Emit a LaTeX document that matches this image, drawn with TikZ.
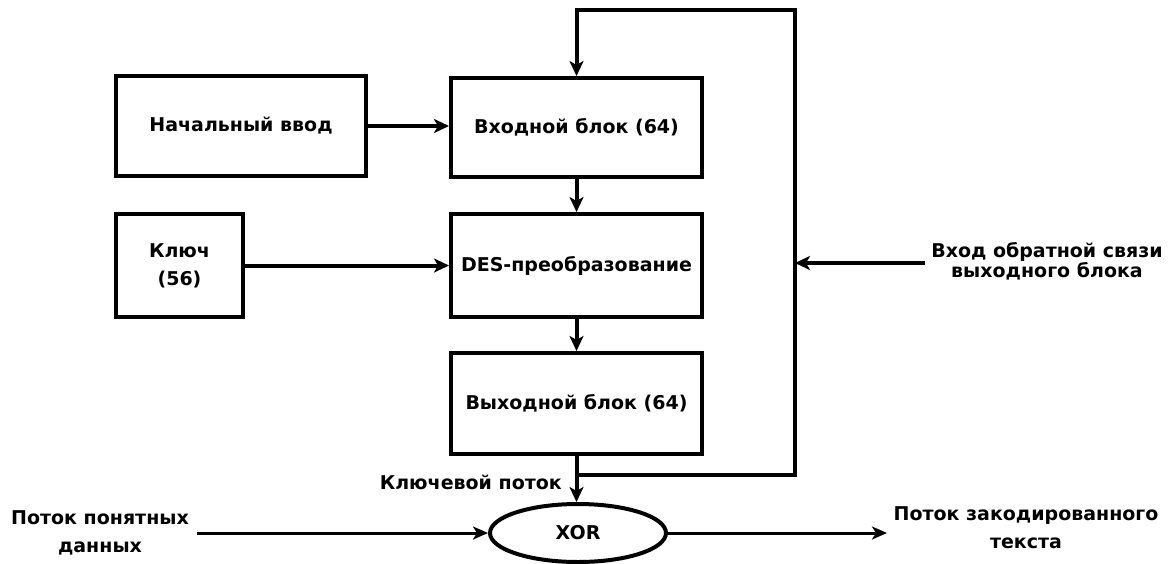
\documentclass[tikz,border=0pt]{standalone}
\usepackage{fontspec}
\setmainfont{DejaVu Sans}
\usetikzlibrary{arrows.meta,shapes.geometric,calc}
\begin{document}
\begin{tikzpicture}[x=1pt,y=-1pt,
  box/.style={draw,line width=4pt,inner sep=0pt,align=center,
    font=\bfseries\fontsize{19}{28}\selectfont},
  lbl/.style={inner sep=0pt,align=center,font=\bfseries\fontsize{19}{28}\selectfont},
  arr/.style={line width=4pt,-{Stealth[length=15pt,width=14pt,inset=4pt]}},
  thinarr/.style={line width=3pt,-{Stealth[length=15pt,width=13pt,inset=4pt]}},
  ln/.style={line width=4pt}]
\useasboundingbox (0,0) rectangle (1173,563);
\fill[white] (0,0) rectangle (1173,563);

\node[box,minimum width=250pt,minimum height=100pt] (b1) at (241,126) {Начальный ввод};
\node[box,minimum width=251pt,minimum height=99pt] (b2) at (576.5,127.5) {Входной блок (64)};
\node[box,minimum width=127pt,minimum height=103pt] (b3) at (179.5,265.5) {Ключ\\(56)};
\node[box,minimum width=251pt,minimum height=103pt] (b4) at (576.5,265.5) {DES-преобразование};
\node[box,minimum width=251pt,minimum height=101pt] (b5) at (576.5,403.5) {Выходной блок (64)};
\node[draw,ellipse,line width=4pt,minimum width=176pt,minimum height=58pt,inner sep=0pt,
  font=\bfseries\fontsize{19}{24}\selectfont] (xor) at (578,533) {XOR};

\node[lbl,anchor=east] (ks) at (562,482) {Ключевой поток};
\node[lbl,font=\bfseries\fontsize{19}{18}\selectfont] (fbin) at (1047,261) {Вход обратной связи\\выходного блока};
\node[lbl] (pin) at (100,533) {Поток понятных\\данных};
\node[lbl] (pout) at (1026,528) {Поток закодированного\\текста};

\coordinate (ksJ) at (576.5,475);
\coordinate (fbR) at (795,475);
\coordinate (fbT) at (795,10);
\coordinate (fbL) at (576.5,10);
\coordinate (fbS) at (925,263);
\coordinate (inS) at (197,533);
\coordinate (outE) at (887,533);

\draw[arr] (b1.east) -- (b1.east -| b2.west);
\draw[arr] (b3.east) -- (b3.east -| b4.west);
\draw[arr] (b2) -- (b4);
\draw[arr] (b4) -- (b5);
\draw[arr] (b5.south) -- (b5.south |- xor.north);
\draw[arr] (ksJ) -- (fbR) -- (fbT) -- (fbL) -- (b2.north);
\draw[arr] (fbS) -- (fbS -| fbR);
\draw[thinarr] (inS) -- (xor.west);
\draw[thinarr] (xor.east) -- (outE);
\end{tikzpicture}
\end{document}
